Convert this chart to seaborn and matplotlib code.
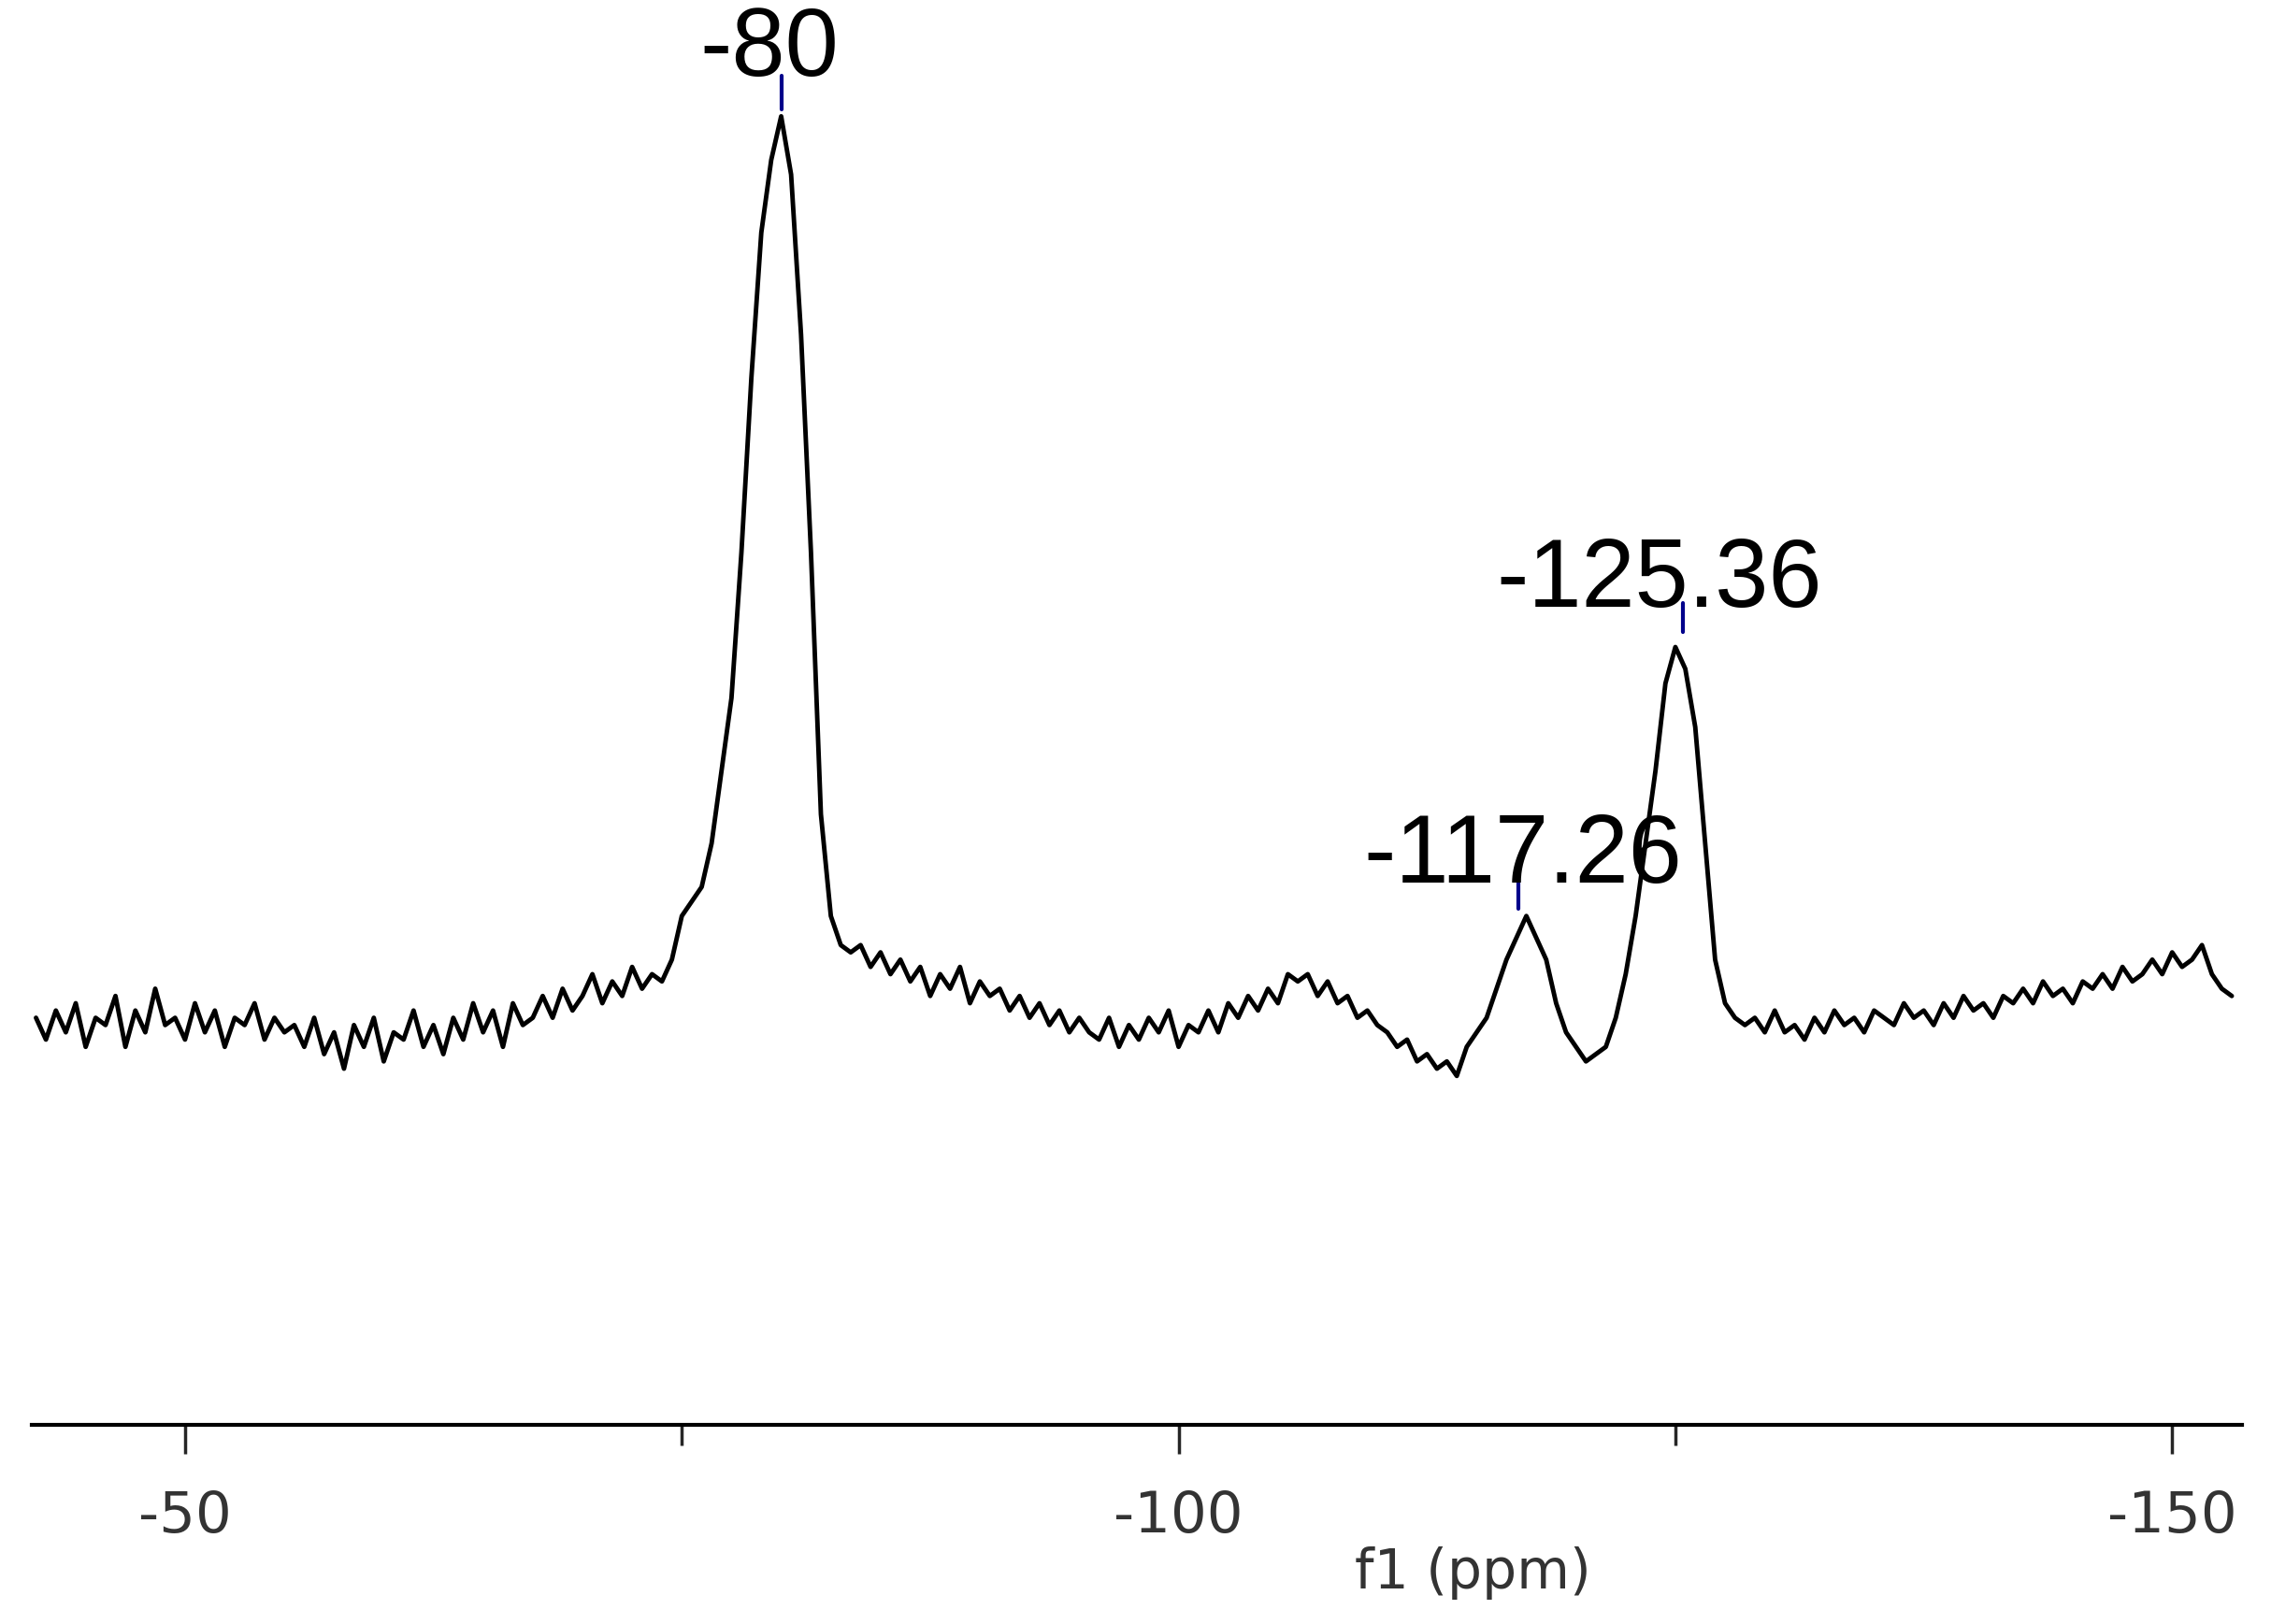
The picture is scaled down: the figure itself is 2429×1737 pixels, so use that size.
import numpy as np
import matplotlib
matplotlib.use("Agg")
import matplotlib.pyplot as plt
import seaborn as sns

sns.set_style("white")
plt.rcParams['font.family'] = ['DejaVu Sans']
plt.rcParams['axes.unicode_minus'] = False

ppm = np.arange(-42.5, -153.01, -0.5)
intensity = [
 28,26.5,28.5,27,29,26,28,27.5,29.5,26,28.5,27,30,27.5,28,26.5,29,27,28.5,26,28,27.5,29,26.5,28,27,
 27.5,26,28,25.5,27,24.5,27.5,26,28,25,27,26.5,28.5,26,27.5,25.5,28,26.5,29,27,28.5,26,29,27.5,28,29.5,
 28,30,28.5,29.5,31,29,30.5,29.5,31.5,30,31,30.5,32,
 35,36,37,40,45,50,60,72,82,87,90,86,75,60,42,35,33,32.5,
 33,31.5,32.5,31,32,30.5,31.5,29.5,31,30,31.5,29,30.5,29.5,30,28.5,29.5,28,29,27.5,28.5,27,28,
 27,26.5,28,26,27.5,26.5,28,27,28.5,26,27.5,27,28.5,27,29,28,29.5,28.5,
 30,29,31,30.5,31,29.5,30.5,29,29.5,28,28.5,
 27.5,27,26,26.5,25,25.5,24.5,25,24,26,27,
 28,30,32,33.5,35,33.5,32,29,27,26,25,25.5,
 26,28,31,35,40,45,51,53.5,52,48,40,32,29,28,
 27.5,28,27,28.5,27,27.5,26.5,28,27,28.5,27.5,28,27,28.5,28,27.5,29,28,28.5,27.5,
 29,28,29.5,28.5,29,28,29.5,29,30,29,30.5,29.5,30,29,30.5,30,31,30,31.5,30.5,
 31,32,31,32.5,31.5,32,33,31,30,29.5]

peak_labels = ["-80", "-117.26", "-125.36"]
peak_pos = [-80.0, -117.1, -125.4]
peak_top = [92.8, 37.5, 56.5]
peak_bot = [90.5, 35.5, 54.5]
label_x = [-79.4, -117.3, -124.2]
label_y = [94.5, 39.0, 58.0]

fig = plt.figure(figsize=(24.29, 17.37), dpi=100)
ax = fig.add_axes([0.0141, 0.1226, 0.973, 0.8774])
sns.lineplot(x=ppm, y=intensity, ax=ax, color="black", linewidth=3.5, sort=False)
for p, t, b, lx, ly, lab in zip(peak_pos, peak_top, peak_bot, label_x, label_y, peak_labels):
    ax.plot([p, p], [b, t], color="#00008b", linewidth=3)
    ax.text(lx, ly, lab, ha="center", va="center", fontsize=74,
            family="Liberation Sans", color="black")

ax.set_xlim(-42.3, -153.5)
ax.set_ylim(0, 98)
for s in ["top", "left", "right"]:
    ax.spines[s].set_visible(False)
ax.spines["bottom"].set_linewidth(3)
ax.spines["bottom"].set_color("black")
ax.set_yticks([])
ax.set_xticks([-50, -100, -150])
ax.set_xticks([-75, -125], minor=True)
ax.tick_params(axis="x", which="major", direction="out", length=22, width=2.5,
               labelsize=44, pad=28, labelcolor="#333333", bottom=True)
ax.tick_params(axis="x", which="minor", direction="out", length=16, width=2.5, bottom=True)
ax.set_xlabel("f1 (ppm)", fontsize=42, color="#333333")
ax.xaxis.set_label_coords(0.652, -0.085)
fig.savefig("out.png", dpi=100)
